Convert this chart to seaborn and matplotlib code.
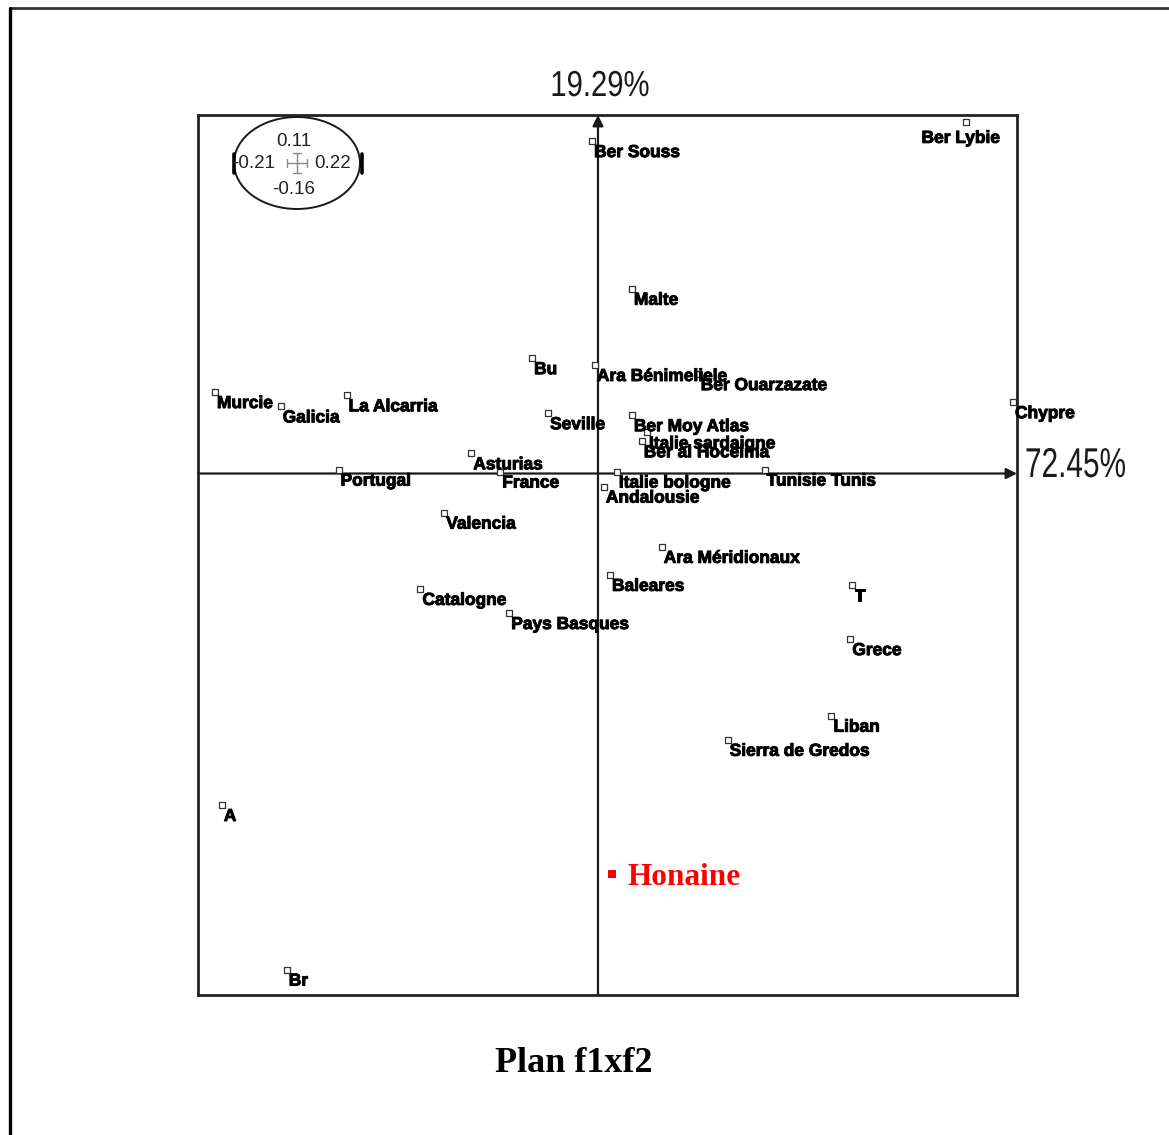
import numpy as np
import pandas as pd
import matplotlib
matplotlib.use("Agg")
import matplotlib.pyplot as plt
from matplotlib.patches import Ellipse
from matplotlib.lines import Line2D
from matplotlib.patheffects import AbstractPathEffect, withStroke
from matplotlib.transforms import Affine2D
import seaborn as sns

# ---- data ----
labels = ["Ber Souss", "Ber Lybie", "Malte", "Bu", "Ara Bénimeliele", "Ber Ouarzazate",
          "Murcie", "Galicia", "La Alcarria", "Seville", "Ber Moy Atlas", "Italie sardaigne",
          "Ber al Hoceima", "Chypre", "Asturias", "France", "Portugal", "Italie bologne",
          "Tunisie Tunis", "Andalousie", "Valencia", "Ara Méridionaux", "Baleares", "T",
          "Catalogne", "Pays Basques", "Grece", "Liban", "Sierra de Gredos", "A", "Br"]
f1 = [-0.0031, 0.1933, 0.0178, -0.0346, -0.0016, 0.0529,
      -0.2011, -0.1666, -0.1320, -0.0262, 0.0178, 0.0257,
      0.0230, 0.2179, -0.0665, -0.0513, -0.1362, 0.0099,
      0.0875, 0.0031, -0.0807, 0.0335, 0.0063, 0.1336,
      -0.0932, -0.0466, 0.1325, 0.1226, 0.0681, -0.1975, -0.1634]
f2 = [0.1020, 0.1079, 0.0567, 0.0354, 0.0333, 0.0305,
      0.0250, 0.0206, 0.0240, 0.0185, 0.0179, 0.0126,
      0.0099, 0.0219, 0.0062, 0.0006, 0.0012, 0.0006,
      0.0012, -0.0040, -0.0120, -0.0225, -0.0311, -0.0342,
      -0.0354, -0.0428, -0.0508, -0.0743, -0.0817, -0.1017, -0.1522]

extra_label = ["Honaine"]
extra_f1 = [0.0073]
extra_f2 = [-0.1229]

x_range = [-0.21, 0.22]
y_range = [-0.16, 0.11]
inertia_f1 = "72.45%"
inertia_f2 = "19.29%"
title = "Plan f1xf2"

df = pd.DataFrame({"label": labels, "F1": f1, "F2": f2})
df_extra = pd.DataFrame({"label": extra_label, "F1": extra_f1, "F2": extra_f2})


class HScale(AbstractPathEffect):
    """Horizontally condense a text around its anchor (text stays a Text artist)."""
    def __init__(self, sx):
        super().__init__()
        self.sx = sx
        self.text = None

    def draw_path(self, renderer, gc, tpath, affine, rgbFace=None):
        x0 = self.text.get_transform().transform(self.text.get_position())[0]
        t = affine + Affine2D().translate(-x0, 0).scale(self.sx, 1).translate(x0, 0)
        renderer.draw_path(gc, tpath, t, rgbFace)


# ---- styling ----
sns.set_style("white")
plt.rcParams["font.family"] = ["Liberation Sans", "DejaVu Sans"]

W, H = 1169, 1135
fig = plt.figure(figsize=(W / 100, H / 100), dpi=100)
L, R, T, B = 198, 1017, 115, 995
ax = fig.add_axes([L / W, 1 - B / H, (R - L) / W, (B - T) / H])
ax.set_xlim(*x_range)
ax.set_ylim(*y_range)
ax.set_xticks([])
ax.set_yticks([])
for sp in ax.spines.values():
    sp.set_visible(True)
    sp.set_color("#222222")
    sp.set_linewidth(2.0)

# axes through origin with arrows
ax.annotate("", xy=(x_range[1], 0), xytext=(x_range[0], 0),
            arrowprops=dict(arrowstyle="-|>", lw=1.6, color="#1a1a1a",
                            mutation_scale=16, shrinkA=0, shrinkB=0), zorder=1)
ax.annotate("", xy=(0, y_range[1]), xytext=(0, y_range[0]),
            arrowprops=dict(arrowstyle="-|>", lw=1.6, color="#1a1a1a",
                            mutation_scale=16, shrinkA=0, shrinkB=0), zorder=1)

# points
sns.scatterplot(data=df, x="F1", y="F2", marker="s", s=18, color="white",
                edgecolor="#333333", linewidth=0.9, ax=ax, zorder=2, legend=False)

label_override = {"Ber Lybie": ("right", 34, -21)}
for _, r in df.iterrows():
    ha, dx, dy = label_override.get(r["label"], ("left", 2, -16))
    ax.annotate(r["label"], xy=(r["F1"], r["F2"]), xytext=(dx, dy),
                textcoords="offset pixels", ha=ha, va="baseline",
                fontsize=12.5, fontweight="bold", color="black",
                family=["Liberation Sans", "DejaVu Sans"],
                path_effects=[withStroke(linewidth=0.7, foreground="black")],
                zorder=3, annotation_clip=False)

# supplementary point
sns.scatterplot(data=df_extra, x="F1", y="F2", marker="s", s=30, color="#ff0000",
                edgecolor="#ff0000", linewidth=0, ax=ax, zorder=4, legend=False)
for _, r in df_extra.iterrows():
    ax.annotate(r["label"], xy=(r["F1"], r["F2"]), xytext=(16, -11),
                textcoords="offset pixels", ha="left", va="baseline",
                fontsize=22.5, fontweight="bold", color="#ff0000",
                family=["Liberation Serif", "DejaVu Serif"], zorder=4)
ax.set_xlabel("")
ax.set_ylabel("")

# inertia labels (condensed sans)
eff2 = HScale(0.81)
t2 = ax.text((600 - L) / (R - L), (B - 96) / (B - T), inertia_f2, transform=ax.transAxes,
             ha="center", va="baseline", fontsize=26, color="#1a1a1a", clip_on=False,
             family=["Liberation Sans", "DejaVu Sans"],
             path_effects=[eff2])
eff2.text = t2
eff1 = HScale(0.715)
t1 = ax.text((1025 - L) / (R - L), (B - 477) / (B - T), inertia_f1, transform=ax.transAxes,
             ha="left", va="baseline", fontsize=30, color="#1a1a1a", clip_on=False,
             family=["Liberation Sans", "DejaVu Sans"], path_effects=[eff1])
eff1.text = t1

# range legend (ellipse) in the top-left corner
def ax_xy(px, py):
    return ((px - L) / (R - L), (B - py) / (B - T))

cx, cy = ax_xy(297, 163)
ax.add_patch(Ellipse((cx, cy), 126 / (R - L), 92 / (B - T), transform=ax.transAxes,
                     fill=False, edgecolor="#1a1a1a", lw=1.4, zorder=5))
for bx in (234, 362):
    x0, y0 = ax_xy(bx, 154)
    x1, y1 = ax_xy(bx, 173)
    ax.add_line(Line2D([x0, x1], [y0, y1], transform=ax.transAxes, color="black",
                       lw=2.6, zorder=6))
gx0, gy0 = ax_xy(287, 163)
gx1, _ = ax_xy(307, 163)
ax.add_line(Line2D([gx0, gx1], [gy0, gy0], transform=ax.transAxes, color="#888888", lw=1, zorder=6))
vx, vy0 = ax_xy(297, 153)
_, vy1 = ax_xy(297, 173)
ax.add_line(Line2D([vx, vx], [vy0, vy1], transform=ax.transAxes, color="#888888", lw=1, zorder=6))
for px in (287, 307):
    a0 = ax_xy(px, 159); a1 = ax_xy(px, 167)
    ax.add_line(Line2D([a0[0], a1[0]], [a0[1], a1[1]], transform=ax.transAxes, color="#888888", lw=1, zorder=6))
for py in (153, 173):
    a0 = ax_xy(293, py); a1 = ax_xy(301, py)
    ax.add_line(Line2D([a0[0], a1[0]], [a0[1], a1[1]], transform=ax.transAxes, color="#888888", lw=1, zorder=6))

legend_texts = [("%.2f" % y_range[1], 294, 141), ("%.2f" % x_range[0], 254, 164),
                ("%.2f" % x_range[1], 333, 164), ("%.2f" % y_range[0], 294, 189)]
for txt, px, py in legend_texts:
    tx, ty = ax_xy(px, py)
    ax.text(tx, ty, txt, transform=ax.transAxes, ha="center", va="center",
            fontsize=13.5, color="#222222", zorder=6)

# title
fig.text(574 / W, 1 - 1063 / H, title, ha="center", va="center", fontsize=26,
         fontweight="bold", family=["Liberation Serif", "DejaVu Serif"], color="black")

# outer page frame (top and left edges)
fig.add_artist(Line2D([10 / W, 1.0], [1 - 8 / H, 1 - 8 / H], transform=fig.transFigure,
                      color="#333333", lw=2.0))
fig.add_artist(Line2D([10 / W, 10 / W], [1 - 8 / H, 0.0], transform=fig.transFigure,
                      color="black", lw=2.4))

fig.savefig("out.png", dpi=100, facecolor="white")
